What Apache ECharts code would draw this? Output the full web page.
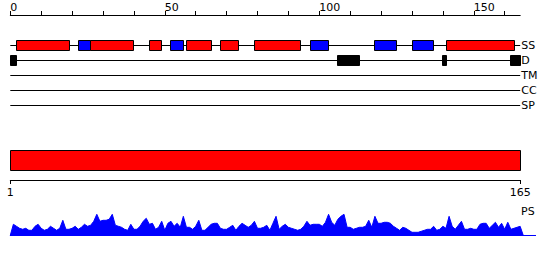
<!DOCTYPE html>
<html><head><meta charset="utf-8">
<script src="https://cdn.jsdelivr.net/npm/echarts@6/dist/echarts.min.js"></script>
<style>html,body{margin:0;padding:0;background:#fff}#c{width:550px;height:260px}</style>
</head><body><div id="c"></div>
<script>
// ---- data ----
const seqLength = 165;
const topTickValues = [0,10,20,30,40,50,60,70,80,90,100,110,120,130,140,150,160];
const topLabelValues = [0,50,100,150];
const tracks = ['SS','D','TM','CC','SP'];
const ssStart = [2,22,26,45,52,57,68,79,97,118,130,141];
const ssEnd   = [19,26,40,49,56,65,74,94,103,125,137,163];
const ssType  = ['H','E','H','H','E','H','H','H','E','E','E','H'];
const disStart = [0,106,140,162];
const disEnd   = [2,113,141,165];
const domainStart = [1];
const domainEnd = [165];
const bottomTickValues = [1,165];
const psValues = [
 11,9,7,6,7,5,5,9,11,7, 5,6,9,7,5,7,15,6,6,7,
 9,6,8,11,9,10,14,21,14,15, 15,16,21,10,9,8,6,5,11,6,
 6,9,14,17,11,12,6,8,14,5, 12,14,9,12,8,19,8,8,6,9,
 15,5,5,8,11,12,12,7,6,6, 8,10,5,9,12,10,8,10,14,7,
 7,8,10,5,12,19,6,9,11,8, 7,6,5,6,9,14,10,11,11,11,
 9,13,21,13,10,16,19,21,8,8, 6,7,8,8,9,15,8,19,12,12,
 13,13,12,9,7,5,8,7,5,3, 3,3,4,5,6,6,9,5,6,9,
 7,19,9,6,10,14,6,6,7,6, 6,11,12,12,7,10,13,8,12,6,
 13,6,7,8,9
];

// ---- chart ----
const chart = echarts.init(document.getElementById('c'), null, {renderer: 'svg'});
const FONT = 'DejaVu Sans';
const RED = '#ff0000', BLUE = '#0000ff', BLACK = '#000000';

function crisp(v){ return Math.round(v - 0.5) + 0.5; }

function boxRender(h){
  return function(params, api){
    const p0 = api.coord([api.value(0), api.value(2)]);
    const p1 = api.coord([api.value(1), api.value(2)]);
    const c = api.value(3);
    const fill = c === 0 ? RED : (c === 1 ? BLUE : BLACK);
    const x0 = crisp(p0[0]), x1 = crisp(p1[0]);
    const y0 = crisp(p0[1] - h/2);
    return {type:'rect', shape:{x:x0, y:y0, width:x1-x0, height:h},
      style:{fill:fill, stroke:BLACK, lineWidth:1}};
  };
}

const ssData = ssStart.map((s,i)=>[s, ssEnd[i], 0, ssType[i]==='H'?0:1]);
const disData = disStart.map((s,i)=>[s, disEnd[i], 1, 2]);
const lineData = tracks.map((t,k)=>[0, seqLength, k]);
const domainData = domainStart.map((s,i)=>[s, domainEnd[i], 10, 0]);
const psData = [[0,0]].concat(psValues.map((v,i)=>[i+1, v])).concat([[seqLength+1, 0]]);

const option = {
  animation: false,
  textStyle: {fontFamily: FONT},
  grid: [
    {left: 10.3, top: 15, width: 509.9, height: 1},
    {left: 10.3, top: 37.5, width: 509.9, height: 75},
    {left: 10.3, top: 150, width: 510, height: 30},
    {left: 10.3, top: 210.3, width: 525.3, height: 25}
  ],
  xAxis: [
    {gridIndex:0, type:'value', min:0, max:seqLength, position:'top',
     axisLine:{show:true, onZero:false, lineStyle:{color:BLACK, width:1}},
     axisTick:{show:true, customValues: topTickValues, length:4, lineStyle:{color:BLACK}},
     axisLabel:{show:true, customValues: topLabelValues, align:'left', margin:2, color:BLACK, fontSize:11, fontFamily:FONT},
     splitLine:{show:false}},
    {gridIndex:1, type:'value', min:0, max:seqLength, show:false},
    {gridIndex:2, type:'value', min:1, max:seqLength, position:'bottom',
     axisLine:{show:true, onZero:false, lineStyle:{color:BLACK, width:1}},
     axisTick:{show:true, customValues: bottomTickValues, length:4, lineStyle:{color:BLACK}},
     axisLabel:{show:true, customValues: bottomTickValues, margin:7, color:BLACK, fontSize:11, fontFamily:FONT},
     splitLine:{show:false}},
    {gridIndex:3, type:'value', min:0, max:170,
     axisLine:{show:true, onZero:false, lineStyle:{color:BLUE, width:1}},
     axisTick:{show:false}, axisLabel:{show:false}, splitLine:{show:false}}
  ],
  yAxis: [
    {gridIndex:0, type:'value', min:0, max:1, show:false},
    {gridIndex:1, type:'category', data:tracks, inverse:true, position:'right',
     axisLine:{show:false}, axisTick:{show:false}, splitLine:{show:false},
     axisLabel:{show:true, margin:1, color:BLACK, fontSize:11, fontFamily:FONT}},
    {gridIndex:2, type:'value', min:0, max:30, inverse:true, show:false},
    {gridIndex:3, type:'value', min:0, max:25, show:false}
  ],
  graphic: [
    {type:'text', x:521, y:211, style:{text:'PS', fontSize:11, fontFamily:FONT, fill:BLACK, verticalAlign:'middle', align:'left'}}
  ],
  series: [
    {type:'custom', xAxisIndex:1, yAxisIndex:1, data:lineData, encode:{x:[0,1], y:2},
     renderItem: function(params, api){
       const p0 = api.coord([api.value(0), api.value(2)]);
       const p1 = api.coord([api.value(1), api.value(2)]);
       const y = crisp(p0[1]);
       return {type:'line', shape:{x1:p0[0], y1:y, x2:p1[0], y2:y}, style:{stroke:BLACK, lineWidth:1}};
     }},
    {type:'custom', xAxisIndex:1, yAxisIndex:1, data:ssData, encode:{x:[0,1], y:2}, renderItem: boxRender(10), z:3},
    {type:'custom', xAxisIndex:1, yAxisIndex:1, data:disData, encode:{x:[0,1], y:2}, renderItem: boxRender(10), z:3},
    {type:'custom', xAxisIndex:2, yAxisIndex:2, data:domainData, encode:{x:[0,1]},
     renderItem: function(params, api){
       const p0 = api.coord([api.value(0), 0]);
       const p1 = api.coord([api.value(1), 20]);
       const x0 = crisp(p0[0]), x1 = crisp(p1[0]);
       const y0 = crisp(p0[1]), y1 = crisp(p1[1]);
       return {type:'rect', shape:{x:x0, y:y0, width:x1-x0, height:y1-y0}, style:{fill:RED, stroke:BLACK, lineWidth:1}};
     }},
    {type:'line', xAxisIndex:3, yAxisIndex:3, data:psData, showSymbol:false, symbol:'none',
     lineStyle:{color:BLUE, width:1}, itemStyle:{color:BLUE}, areaStyle:{color:BLUE, opacity:1}}
  ]
};
chart.setOption(option);
</script>
</body></html>
